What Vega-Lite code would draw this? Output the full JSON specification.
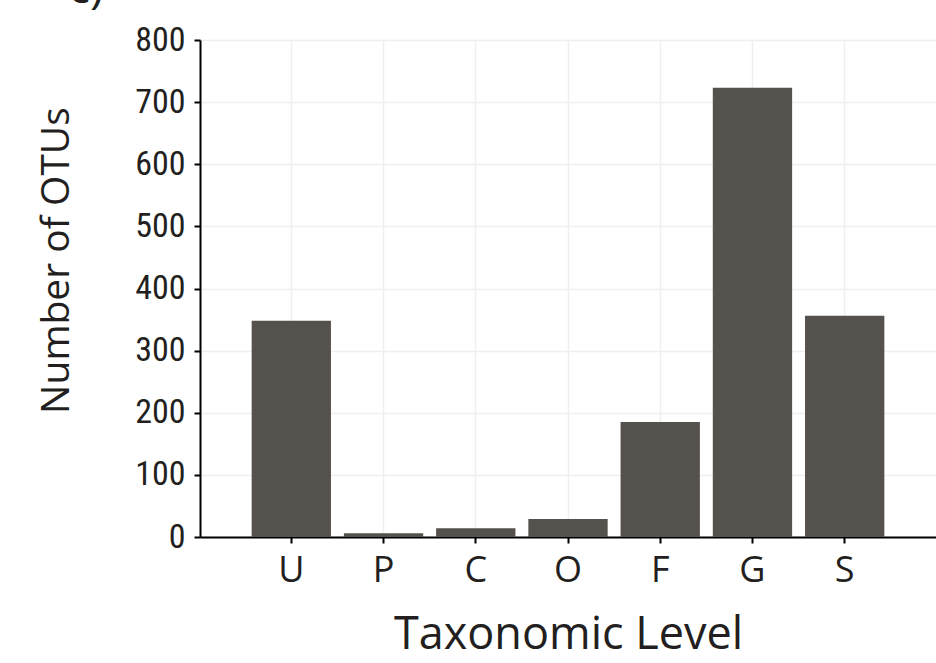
{
  "$schema": "https://vega.github.io/schema/vega-lite/v6.json",
  "width": 736,
  "height": 497,
  "autosize": "none",
  "padding": {"left": 200, "top": 40, "right": 0, "bottom": 126},
  "background": "white",
  "title": {
    "text": "c)",
    "anchor": "start",
    "frame": "group",
    "dx": -132,
    "dy": -10,
    "offset": 0,
    "baseline": "top",
    "font": "Open Sans",
    "fontSize": 46,
    "fontWeight": "normal",
    "color": "#231f20"
  },
  "data": {
    "values": [
      {"level": "U", "otus": 348},
      {"level": "P", "otus": 6},
      {"level": "C", "otus": 14},
      {"level": "O", "otus": 29},
      {"level": "F", "otus": 185},
      {"level": "G", "otus": 723},
      {"level": "S", "otus": 356}
    ]
  },
  "config": {
    "view": {"stroke": null},
    "axis": {
      "domainColor": "#000000",
      "domainWidth": 2,
      "tickColor": "#000000",
      "tickWidth": 2,
      "gridColor": "#efefef",
      "gridWidth": 1.5,
      "labelColor": "#231f20",
      "titleColor": "#231f20",
      "titleFontWeight": "normal"
    }
  },
  "mark": {"type": "bar", "color": "#55524d"},
  "encoding": {
    "x": {
      "field": "level",
      "type": "nominal",
      "sort": ["U", "P", "C", "O", "F", "G", "S"],
      "scale": {"paddingInner": 0.14, "paddingOuter": 0.56},
      "axis": {
        "title": "Taxonomic Level",
        "labelAngle": 0,
        "bandPosition": 0.5,
        "grid": true,
        "tickSize": 6,
        "labelPadding": 10,
        "labelFont": "Open Sans",
        "labelFontSize": 36,
        "titleFont": "Open Sans",
        "titleFontSize": 45,
        "titlePadding": 24
      }
    },
    "y": {
      "field": "otus",
      "type": "quantitative",
      "scale": {"domain": [0, 800], "nice": false},
      "axis": {
        "title": "Number of OTUs",
        "values": [0, 100, 200, 300, 400, 500, 600, 700, 800],
        "grid": true,
        "tickSize": 6,
        "labelPadding": 9,
        "labelFont": "Roboto Condensed, DejaVu Sans Condensed, Liberation Sans Narrow, Roboto",
        "labelFontSize": 34,
        "titleFont": "Open Sans",
        "titleFontSize": 39,
        "titlePadding": 58,
        "titleY": 220
      }
    }
  }
}
